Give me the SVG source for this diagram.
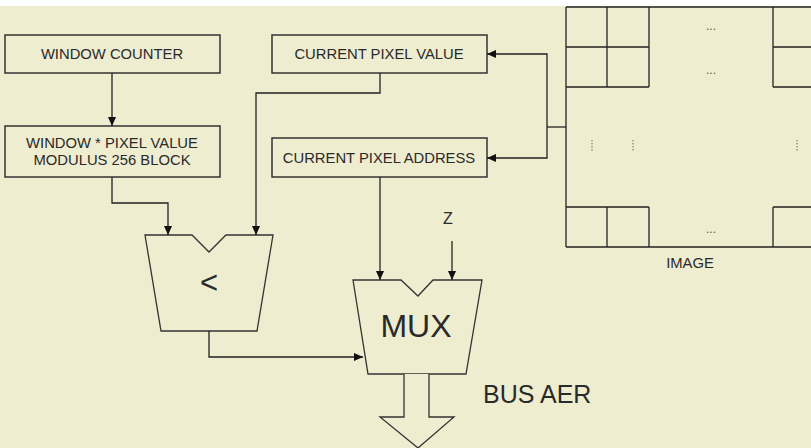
<svg xmlns="http://www.w3.org/2000/svg" width="811" height="448" viewBox="0 0 811 448">
<style>
.bg{fill:#eeedd0}
.box{fill:#eeedd0;stroke:#333;stroke-width:1.5}
.ln{fill:none;stroke:#222;stroke-width:1.3}
.sh{fill:#eeedd0;stroke:#333;stroke-width:1.3;stroke-linejoin:miter}
.t{font-family:"Liberation Sans",Arial,sans-serif;fill:#2a2a2a;text-anchor:middle}
.s{font-size:14.8px}
.dots{fill:none;stroke:#888;stroke-width:1.3;stroke-dasharray:1.5 1.5}
</style>
<defs>
<marker id="ah" viewBox="0 0 10 10" refX="10" refY="5" markerWidth="9" markerHeight="9" markerUnits="userSpaceOnUse" orient="auto"><path d="M0,0.5 L10,5 L0,9.5 Z" fill="#111"/></marker>
</defs>
<rect x="0" y="0" width="811" height="448" class="bg"/>
<rect x="0" y="0" width="811" height="6" fill="#ffffff"/>

<g id="window-counter">
<rect x="5" y="35" width="215" height="38" class="box"/>
<text x="112" y="59" class="t s">WINDOW COUNTER</text>
</g>
<g id="modulus-block">
<rect x="5" y="126" width="215" height="51" class="box"/>
<text x="112" y="147.5" class="t s">WINDOW * PIXEL VALUE</text>
<text x="112" y="164.5" class="t s">MODULUS 256 BLOCK</text>
</g>
<g id="current-pixel-value">
<rect x="272" y="35" width="215" height="38" class="box"/>
<text x="379" y="59" class="t s">CURRENT PIXEL VALUE</text>
</g>
<g id="current-pixel-address">
<rect x="272" y="138" width="215" height="39" class="box"/>
<text x="379" y="162.5" class="t s">CURRENT PIXEL ADDRESS</text>
</g>
<g id="comparator">
<path d="M145,235 L192,235 L209,252 L226,235 L273,235 L257,331 L161,331 Z" class="sh"/>
<text x="209" y="293" class="t" font-size="31">&lt;</text>
</g>
<g id="mux">
<path d="M353,280 L401,280 L418,296 L433,280 L482,280 L466,374 L368,374 Z" class="sh"/>
<text x="416" y="337" class="t" font-size="32">MUX</text>
</g>
<g id="bus-aer">
<path d="M404,374 L404,417 L380,417 L418,448 L454,417 L429,417 L429,374" class="sh"/>
<text x="483" y="403" font-family="'Liberation Sans',Arial,sans-serif" font-size="25" fill="#2a2a2a">BUS AER</text>
</g>
<g id="z-input">
<text x="448" y="224" class="t" font-size="16">Z</text>
</g>
<g id="image">
<path d="M566,7 H811 M566,247 H811 M566,7 V247 M566,47 H649 M566,87 H649 M566,207 H649 M773,47 H811 M773,87 H811 M773,207 H811 M607,7 V87 M649,7 V87 M607,207 V247 M649,207 V247 M773,7 V87 M773,207 V247" class="ln" stroke-width="1.5"/>
<text x="711" y="30" font-family="'Liberation Sans',Arial,sans-serif" font-size="12" fill="#555" text-anchor="middle">...</text>
<text x="711" y="74" font-family="'Liberation Sans',Arial,sans-serif" font-size="12" fill="#555" text-anchor="middle">...</text>
<text x="711" y="233" font-family="'Liberation Sans',Arial,sans-serif" font-size="12" fill="#555" text-anchor="middle">...</text>
<path d="M592,140 V152 M633,140 V152 M797,140 V152" class="dots"/>
<text x="690" y="268" class="t s">IMAGE</text>
</g>
<g id="connectors">
<path d="M112,73 V126" class="ln" marker-end="url(#ah)"/>
<path d="M566,127 H547" class="ln"/>
<path d="M547,127 V54 H487" class="ln" marker-end="url(#ah)"/>
<path d="M547,127 V158 H487" class="ln" marker-end="url(#ah)"/>
<path d="M380,73 V93 H256 V235" class="ln" marker-end="url(#ah)"/>
<path d="M112,177 V203 H168 V235" class="ln" marker-end="url(#ah)"/>
<path d="M209,331 V357 H363" class="ln" marker-end="url(#ah)"/>
<path d="M380,177 V280" class="ln" marker-end="url(#ah)"/>
<path d="M452,241 V280" class="ln" marker-end="url(#ah)"/>
</g>
</svg>
